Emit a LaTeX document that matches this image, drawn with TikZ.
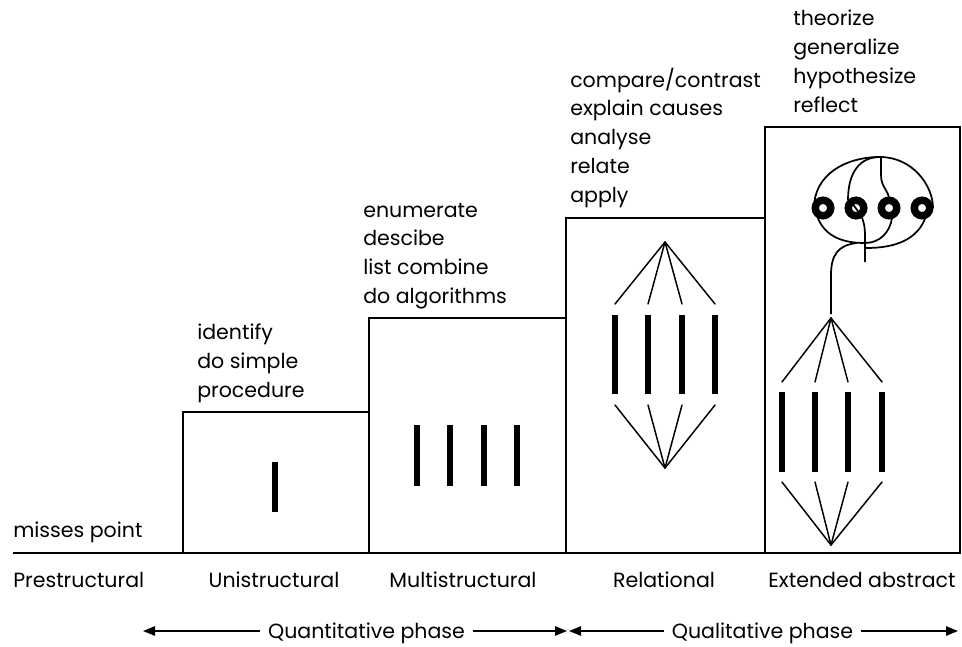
\documentclass[tikz,border=0pt]{standalone}
\usepackage{fontspec}
\setmainfont{Poppins}
\usetikzlibrary{arrows.meta}

\tikzset{
  outline/.style={line width=1.4pt},
  strand/.style={line width=5pt},
  link/.style={line width=1.1pt, line cap=round},
  wire/.style={line width=1.3pt},
  ring/.style={line width=5.6pt},
  verb/.style={anchor=base west, inner sep=0pt, font=\fontsize{15.4}{18}\selectfont},
  stage/.style={anchor=base, inner sep=0pt, font=\fontsize{15.4}{18}\selectfont},
  phase/.style={line width=1.3pt, -{Triangle[length=9pt,width=7pt]}},
}

\begin{document}
\begin{tikzpicture}[x=0.75pt, y=-0.75pt]
  \useasboundingbox (0,0) rectangle (962,646);

  % steps
  \draw[outline] (13,553) -- (960,553);
  \draw[outline] (183,553) rectangle (369,412);
  \draw[outline] (369,553) rectangle (566,318);
  \draw[outline] (566,553) rectangle (765,218);
  \draw[outline] (765,553) rectangle (960,127);

  % unistructural
  \draw[strand] (275,462) -- (275,512);

  % multistructural
  \foreach \x in {417,450,484,517}
    \draw[strand] (\x,425) -- (\x,486);

  % relational
  \coordinate (rel-top) at (665,242);
  \coordinate (rel-bot) at (665,468);
  \foreach \x in {615,648,682,715} {
    \draw[strand] (\x,315) -- (\x,394);
    \draw[link] (rel-top) -- (\x,304);
    \draw[link] (rel-bot) -- (\x,405);
  }

  % extended abstract
  \coordinate (ext-top) at (831,318);
  \coordinate (ext-bot) at (831,545);
  \foreach \x in {782,815,848,882} {
    \draw[strand] (\x,392) -- (\x,472);
    \draw[link] (ext-top) -- (\x,382);
    \draw[link] (ext-bot) -- (\x,482);
  }
  \draw[wire] (831,314) -- (831,275) .. controls (831,255) and (838,245) .. (857,243);
  \draw[wire] (814,208) .. controls (814,175) and (845,157) .. (880,157)
    .. controls (912,157) and (933,185) .. (933,208);
  \draw[wire] (880,157) .. controls (860,157) and (848,172) .. (848,200);
  \draw[wire] (881,157) -- (881,175) .. controls (881,188) and (889,190) .. (889,200);
  \draw[wire] (817,216) .. controls (825,238) and (845,243) .. (865,243)
    .. controls (880,243) and (890,232) .. (892,218);
  \draw[wire] (926,216) .. controls (918,240) and (895,248) .. (866,248);
  \foreach \x in {823,856,889,922}
    \draw[ring] (\x,208) circle[radius=7.75];
  \draw[wire] (852,203) -- (860,214) .. controls (864,220) and (865,228) .. (865,236) -- (865,262);

  % verbs
  \node[verb] (pre-1) at (13,537) {misses point};
  \foreach \w [count=\i] in {identify, do simple, procedure}
    \node[verb] (uni-\i) at (197,{339.6+28.7*(\i-1)}) {\w};
  \foreach \w [count=\i] in {enumerate, descibe, list combine, do algorithms}
    \node[verb] (multi-\i) at (363,{217+28.7*(\i-1)}) {\w};
  \foreach \w [count=\i] in {compare/contrast, explain causes, analyse, relate, apply}
    \node[verb] (rel-\i) at (570,{87.2+28.7*(\i-1)}) {\w};
  \foreach \w [count=\i] in {theorize, generalize, hypothesize, reflect}
    \node[verb] (ext-\i) at (793,{26+28.7*(\i-1)}) {\w};

  % levels
  \node[verb] (prestructural) at (13,587) {Prestructural};
  \node[stage] (unistructural) at (274,587) {Unistructural};
  \node[stage] (multistructural) at (463,587) {Multistructural};
  \node[stage] (relational) at (664,587) {Relational};
  \node[stage] (extended) at (862,587) {Extended abstract};

  % phases
  \node[stage, inner xsep=6pt] (quant) at (366.5,638) {Quantitative phase};
  \node[stage, inner xsep=6pt] (qual) at (762.5,638) {Qualitative phase};
  \coordinate (quant-l) at (143,631);
  \coordinate (quant-r) at (567,631);
  \coordinate (qual-l) at (569,631);
  \coordinate (qual-r) at (958,631);
  \draw[phase] (quant.west |- quant-l) -- (quant-l);
  \draw[phase] (quant.east |- quant-r) -- (quant-r);
  \draw[phase] (qual.west |- qual-l) -- (qual-l);
  \draw[phase] (qual.east |- qual-r) -- (qual-r);
\end{tikzpicture}
\end{document}
